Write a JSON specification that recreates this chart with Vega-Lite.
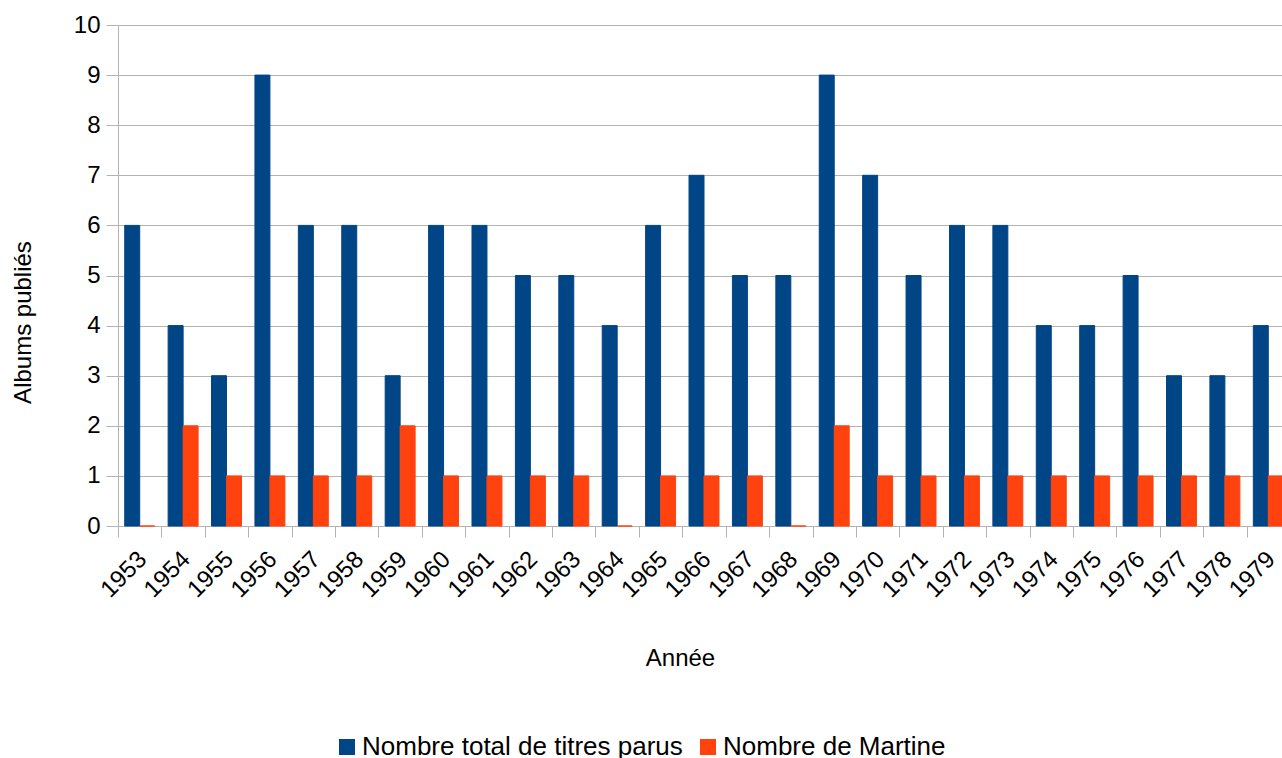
{
  "$schema": "https://vega.github.io/schema/vega-lite/v6.json",
  "width": 1164,
  "height": 501,
  "autosize": {"type": "none"},
  "padding": {"left": 118, "top": 25, "right": 0, "bottom": 232},
  "config": {"font": "Liberation Sans", "view": {"stroke": null}},
  "data": {
    "values": [
      {"annee": "1953", "serie": "Nombre total de titres parus", "albums": 6},
      {"annee": "1953", "serie": "Nombre de Martine", "albums": 0},
      {"annee": "1954", "serie": "Nombre total de titres parus", "albums": 4},
      {"annee": "1954", "serie": "Nombre de Martine", "albums": 2},
      {"annee": "1955", "serie": "Nombre total de titres parus", "albums": 3},
      {"annee": "1955", "serie": "Nombre de Martine", "albums": 1},
      {"annee": "1956", "serie": "Nombre total de titres parus", "albums": 9},
      {"annee": "1956", "serie": "Nombre de Martine", "albums": 1},
      {"annee": "1957", "serie": "Nombre total de titres parus", "albums": 6},
      {"annee": "1957", "serie": "Nombre de Martine", "albums": 1},
      {"annee": "1958", "serie": "Nombre total de titres parus", "albums": 6},
      {"annee": "1958", "serie": "Nombre de Martine", "albums": 1},
      {"annee": "1959", "serie": "Nombre total de titres parus", "albums": 3},
      {"annee": "1959", "serie": "Nombre de Martine", "albums": 2},
      {"annee": "1960", "serie": "Nombre total de titres parus", "albums": 6},
      {"annee": "1960", "serie": "Nombre de Martine", "albums": 1},
      {"annee": "1961", "serie": "Nombre total de titres parus", "albums": 6},
      {"annee": "1961", "serie": "Nombre de Martine", "albums": 1},
      {"annee": "1962", "serie": "Nombre total de titres parus", "albums": 5},
      {"annee": "1962", "serie": "Nombre de Martine", "albums": 1},
      {"annee": "1963", "serie": "Nombre total de titres parus", "albums": 5},
      {"annee": "1963", "serie": "Nombre de Martine", "albums": 1},
      {"annee": "1964", "serie": "Nombre total de titres parus", "albums": 4},
      {"annee": "1964", "serie": "Nombre de Martine", "albums": 0},
      {"annee": "1965", "serie": "Nombre total de titres parus", "albums": 6},
      {"annee": "1965", "serie": "Nombre de Martine", "albums": 1},
      {"annee": "1966", "serie": "Nombre total de titres parus", "albums": 7},
      {"annee": "1966", "serie": "Nombre de Martine", "albums": 1},
      {"annee": "1967", "serie": "Nombre total de titres parus", "albums": 5},
      {"annee": "1967", "serie": "Nombre de Martine", "albums": 1},
      {"annee": "1968", "serie": "Nombre total de titres parus", "albums": 5},
      {"annee": "1968", "serie": "Nombre de Martine", "albums": 0},
      {"annee": "1969", "serie": "Nombre total de titres parus", "albums": 9},
      {"annee": "1969", "serie": "Nombre de Martine", "albums": 2},
      {"annee": "1970", "serie": "Nombre total de titres parus", "albums": 7},
      {"annee": "1970", "serie": "Nombre de Martine", "albums": 1},
      {"annee": "1971", "serie": "Nombre total de titres parus", "albums": 5},
      {"annee": "1971", "serie": "Nombre de Martine", "albums": 1},
      {"annee": "1972", "serie": "Nombre total de titres parus", "albums": 6},
      {"annee": "1972", "serie": "Nombre de Martine", "albums": 1},
      {"annee": "1973", "serie": "Nombre total de titres parus", "albums": 6},
      {"annee": "1973", "serie": "Nombre de Martine", "albums": 1},
      {"annee": "1974", "serie": "Nombre total de titres parus", "albums": 4},
      {"annee": "1974", "serie": "Nombre de Martine", "albums": 1},
      {"annee": "1975", "serie": "Nombre total de titres parus", "albums": 4},
      {"annee": "1975", "serie": "Nombre de Martine", "albums": 1},
      {"annee": "1976", "serie": "Nombre total de titres parus", "albums": 5},
      {"annee": "1976", "serie": "Nombre de Martine", "albums": 1},
      {"annee": "1977", "serie": "Nombre total de titres parus", "albums": 3},
      {"annee": "1977", "serie": "Nombre de Martine", "albums": 1},
      {"annee": "1978", "serie": "Nombre total de titres parus", "albums": 3},
      {"annee": "1978", "serie": "Nombre de Martine", "albums": 1},
      {"annee": "1979", "serie": "Nombre total de titres parus", "albums": 4},
      {"annee": "1979", "serie": "Nombre de Martine", "albums": 1}
    ]
  },
  "mark": {"type": "bar", "strokeWidth": 1},
  "encoding": {
    "x": {
      "field": "annee",
      "type": "nominal",
      "scale": {"paddingInner": 0.31, "paddingOuter": 0.155, "range": [0, 1172]},
      "axis": {
        "title": "Année",
        "titleFontSize": 24,
        "titleFontWeight": "normal",
        "titleColor": "#000000",
        "titleX": 562,
        "titleY": 132,
        "titleBaseline": "middle",
        "labelAngle": -45,
        "labelFontSize": 24,
        "labelColor": "#000000",
        "labelPadding": 10,
        "labelLimit": 0,
        "tickOffset": -21.7,
        "labelOffset": 16,
        "tickSize": 11,
        "tickColor": "#b3b3b3",
        "domainColor": "#b3b3b3",
        "grid": false
      }
    },
    "xOffset": {
      "field": "serie",
      "type": "nominal",
      "sort": ["Nombre total de titres parus", "Nombre de Martine"],
      "scale": {"paddingInner": 0, "paddingOuter": 0}
    },
    "y": {
      "field": "albums",
      "type": "quantitative",
      "scale": {"domain": [0, 10], "nice": false},
      "axis": {
        "title": "Albums publiés",
        "titleFontSize": 24,
        "titleFontWeight": "normal",
        "titleColor": "#000000",
        "titleX": -95,
        "titleY": 297,
        "titleAlign": "center",
        "titleBaseline": "middle",
        "values": [0, 1, 2, 3, 4, 5, 6, 7, 8, 9, 10],
        "labelFontSize": 24,
        "labelColor": "#000000",
        "labelPadding": 6,
        "tickSize": 12,
        "tickColor": "#b3b3b3",
        "domainColor": "#b3b3b3",
        "gridColor": "#b3b3b3",
        "grid": true
      }
    },
    "stroke": {
      "field": "serie",
      "type": "nominal",
      "scale": {
        "domain": ["Nombre total de titres parus", "Nombre de Martine"],
        "range": ["#004586", "#ff420e"]
      },
      "legend": null
    },
    "color": {
      "field": "serie",
      "type": "nominal",
      "scale": {
        "domain": ["Nombre total de titres parus", "Nombre de Martine"],
        "range": ["#004586", "#ff420e"]
      },
      "legend": {
        "orient": "none",
        "legendX": 216,
        "legendY": 709,
        "direction": "horizontal",
        "title": null,
        "labelFontSize": 26,
        "labelColor": "#000000",
        "labelLimit": 0,
        "symbolType": "square",
        "symbolSize": 256,
        "symbolStrokeWidth": 0,
        "symbolOpacity": 1,
        "labelOffset": 2,
        "columnPadding": 12
      }
    }
  }
}
